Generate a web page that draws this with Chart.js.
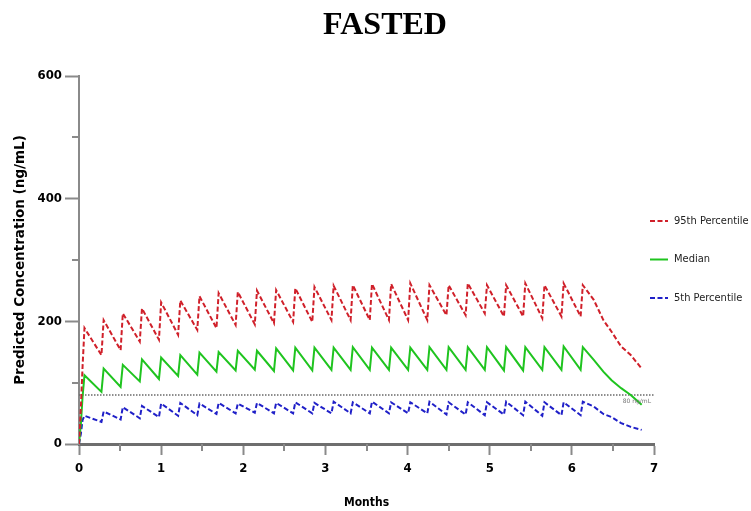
<!DOCTYPE html>
<html lang="en">
<head>
<meta charset="UTF-8">
<title>FASTED</title>
<script src="https://cdn.jsdelivr.net/npm/chart.js"></script>
<style>
  html, body { margin: 0; padding: 0; background: #fff; }
  #wrap { width: 751px; height: 511px; }
</style>
</head>
<body>
<div id="wrap"><canvas id="concChart" width="751" height="511"></canvas></div>
<script>
// simulation sample times (days): start-up ramp, then trough/peak per weekly dose, then washout
const sampleDays = [
  0, 0.7, 1.3, 2,
  8.2, 9, 15.2, 16, 22.2, 23, 29.2, 30, 36.2, 37, 43.2, 44, 50.2, 51, 57.2, 58, 64.2, 65,
  71.2, 72, 78.2, 79, 85.2, 86, 92.2, 93, 99.2, 100, 106.2, 107, 113.2, 114, 120.2, 121, 127.2, 128,
  134.2, 135, 141.2, 142, 148.2, 149, 155.2, 156, 162.2, 163, 169.2, 170, 176.2, 177, 183.2, 184,
  188, 191.5, 194.5, 198, 201.5, 205.5
];

// predicted concentrations (ng/mL) at each sample time
const p95 = [
  0, 61, 126, 189,
  145, 202, 153, 213, 167, 221, 170, 231, 178, 234, 186, 241, 189, 246, 194, 248, 195, 250,
  197, 251, 199, 254, 199, 256, 202, 258, 202, 259, 202, 261, 202, 261, 202, 262, 202, 259,
  210, 259, 210, 262, 213, 259, 208, 259, 208, 262, 205, 259, 208, 262, 208, 259,
  235, 202, 183, 159, 145, 123
];
const median = [
  0, 34, 77, 112,
  85, 123, 93, 129, 102, 138, 106, 141, 111, 145, 113, 149, 118, 150, 120, 152, 121, 152,
  119, 156, 120, 157, 120, 157, 121, 157, 121, 158, 121, 157, 121, 157, 121, 157, 121, 158,
  121, 158, 121, 158, 121, 158, 120, 158, 120, 158, 121, 158, 121, 159, 121, 158,
  137, 118, 104, 91, 80, 64
];
const p5 = [
  0, 17, 39, 46,
  36, 53, 40, 60, 42, 62, 44, 66, 46, 67, 47, 66, 49, 67, 50, 66, 51, 67,
  50, 67, 50, 68, 50, 67, 50, 69, 50, 68, 50, 69, 50, 68, 50, 68, 50, 69,
  48, 68, 48, 68, 47, 68, 48, 69, 47, 69, 46, 68, 47, 68, 47, 69,
  61, 49, 44, 34, 28, 23
];

const thresholdLevel = 80;
const seriesNames = ['95th Percentile', 'Median', '5th Percentile'];
const yTicks = [0, 200, 400, 600];
const yMinorTicks = [100, 300, 500];
const xTicks = [0, 1, 2, 3, 4, 5, 6, 7];
const xMinorTicks = [0.5, 1.5, 2.5, 3.5, 4.5, 5.5, 6.5];
const DAYS_PER_MONTH = 30;

const condensed = '"DejaVu Sans Condensed", "DejaVu Sans", sans-serif';

function toPoints(values) {
  return values.map((v, i) => ({ x: sampleDays[i] / DAYS_PER_MONTH, y: v }));
}

// title, legend, minor ticks and the 80 ng/mL label
const decorPlugin = {
  id: 'decor',
  afterDraw(chart) {
    const ctx = chart.ctx;
    const area = chart.chartArea;
    const xs = chart.scales.x;
    const ys = chart.scales.y;
    ctx.save();

    ctx.strokeStyle = '#8a8a8a';
    ctx.lineWidth = 2;
    ctx.beginPath();
    yMinorTicks.forEach(v => {
      const py = Math.round(ys.getPixelForValue(v));
      ctx.moveTo(area.left - 7, py);
      ctx.lineTo(area.left, py);
    });
    xMinorTicks.forEach(v => {
      const px = Math.round(xs.getPixelForValue(v));
      ctx.moveTo(px, area.bottom);
      ctx.lineTo(px, area.bottom + 7);
    });
    ctx.stroke();

    ctx.font = '6px "DejaVu Sans", sans-serif';
    ctx.fillStyle = '#777';
    ctx.textAlign = 'right';
    ctx.textBaseline = 'middle';
    ctx.fillText(thresholdLevel + ' ng/mL', area.right - 3, ys.getPixelForValue(thresholdLevel) + 7);

    ctx.font = 'bold 32px "Liberation Serif", "Times New Roman", serif';
    ctx.fillStyle = '#000';
    ctx.textAlign = 'center';
    ctx.fillText('FASTED', 385, 26);

    ctx.font = '11px ' + condensed;
    ctx.textAlign = 'left';
    chart.data.datasets.forEach((ds, i) => {
      if (i >= seriesNames.length) return;
      const ly = 221 + i * 38.5;
      ctx.strokeStyle = ds.borderColor;
      ctx.lineWidth = 2;
      ctx.setLineDash(ds.borderDash || []);
      ctx.beginPath();
      ctx.moveTo(area.right - 4, ly);
      ctx.lineTo(area.right + 14, ly);
      ctx.stroke();
      ctx.setLineDash([]);
      ctx.fillStyle = '#222';
      ctx.fillText(ds.label, area.right + 20, ly);
    });
    ctx.restore();
  }
};

const ctx = document.getElementById('concChart').getContext('2d');
new Chart(ctx, {
  type: 'line',
  data: {
    datasets: [
      {
        label: seriesNames[0],
        data: toPoints(p95),
        borderColor: '#d0202a',
        borderWidth: 2,
        borderDash: [5, 2.5]
      },
      {
        label: seriesNames[1],
        data: toPoints(median),
        borderColor: '#1fc41f',
        borderWidth: 2
      },
      {
        label: seriesNames[2],
        data: toPoints(p5),
        borderColor: '#2020c8',
        borderWidth: 2,
        borderDash: [5, 2.5]
      },
      {
        label: '',
        data: [{ x: 0, y: thresholdLevel }, { x: 7, y: thresholdLevel }],
        borderColor: '#6a6a6a',
        borderWidth: 1.5,
        borderDash: [1.5, 1.5]
      }
    ]
  },
  options: {
    responsive: false,
    animation: false,
    layout: { padding: { top: 76, right: 97, left: 0, bottom: 0 } },
    elements: { point: { radius: 0 }, line: { tension: 0 } },
    scales: {
      x: {
        type: 'linear',
        min: 0,
        max: 7,
        afterBuildTicks: s => { s.ticks = xTicks.map(v => ({ value: v })); },
        afterFit: s => { s.height = 67; },
        border: { color: '#6e6e6e', width: 3 },
        grid: { drawOnChartArea: false, tickLength: 11, tickWidth: 2, tickColor: '#8a8a8a' },
        ticks: {
          padding: 6,
          color: '#000',
          font: { family: condensed, size: 13, weight: 'bold' }
        },
        title: {
          display: true,
          text: 'Months',
          color: '#000',
          padding: { top: 0, bottom: 1 },
          font: { family: condensed, size: 12, weight: 'bold' }
        }
      },
      y: {
        min: 0,
        max: 600,
        afterBuildTicks: s => { s.ticks = yTicks.map(v => ({ value: v })); },
        afterFit: s => { s.width = 79; },
        border: { color: '#8a8a8a', width: 2 },
        grid: { drawOnChartArea: false, tickLength: 14, tickWidth: 2, tickColor: '#8a8a8a' },
        ticks: {
          padding: 3,
          color: '#000',
          font: { family: condensed, size: 13, weight: 'bold' }
        },
        title: {
          display: true,
          text: 'Predicted Concentration (ng/mL)',
          color: '#000',
          padding: { top: 12, bottom: 0 },
          font: { family: '"DejaVu Sans", sans-serif', size: 13.5, weight: 'bold' }
        }
      }
    },
    plugins: {
      legend: { display: false },
      tooltip: { enabled: false }
    }
  },
  plugins: [decorPlugin]
});
</script>
</body>
</html>
